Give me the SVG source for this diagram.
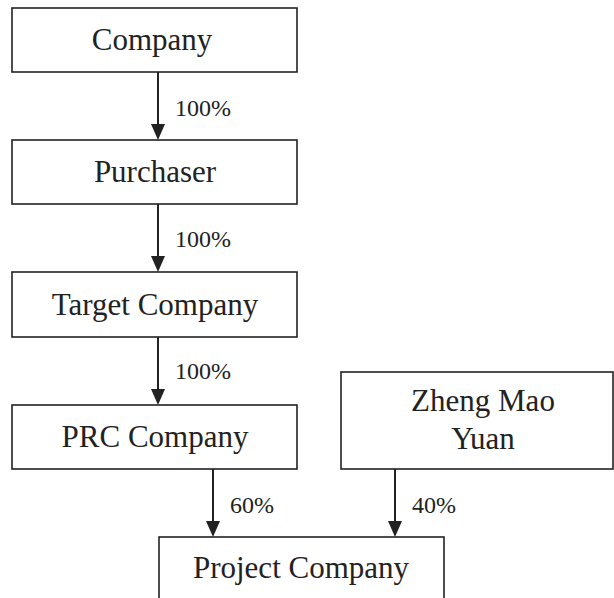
<svg xmlns="http://www.w3.org/2000/svg" width="614" height="598" viewBox="0 0 614 598">
<style>
.box{fill:#fff;stroke:#222;stroke-width:1.6}
.t{font-family:"Liberation Serif","Times New Roman",serif;font-size:31px;fill:#222;text-anchor:middle}
.l{font-family:"Liberation Serif","Times New Roman",serif;font-size:24px;fill:#222}
.c{stroke:#222;stroke-width:2;fill:none;marker-end:url(#ah)}
</style>
<defs>
<marker id="ah" markerUnits="userSpaceOnUse" markerWidth="16" markerHeight="14" viewBox="0 0 16 14" refX="10" refY="7" orient="auto">
<path d="M0,0 L16,7 L0,14 z" fill="#222"/>
</marker>
</defs>
<rect width="614" height="598" fill="#fff"/>
<g id="connectors">
<line class="c" x1="158" y1="72" x2="158" y2="134"/>
<line class="c" x1="158" y1="204" x2="158" y2="266"/>
<line class="c" x1="158" y1="337" x2="158" y2="399"/>
<line class="c" x1="213" y1="469" x2="213" y2="531"/>
<line class="c" x1="395" y1="469" x2="395" y2="531"/>
<text class="l" x="175" y="116">100%</text>
<text class="l" x="175" y="247">100%</text>
<text class="l" x="175" y="379">100%</text>
<text class="l" x="230" y="513">60%</text>
<text class="l" x="412" y="513">40%</text>
</g>
<g id="company">
<rect class="box" x="12" y="8" width="285" height="64"/>
<text class="t" x="152" y="50">Company</text>
</g>
<g id="purchaser">
<rect class="box" x="12" y="140" width="285" height="64"/>
<text class="t" x="155" y="182">Purchaser</text>
</g>
<g id="target">
<rect class="box" x="12" y="272" width="285" height="65"/>
<text class="t" x="155" y="315">Target Company</text>
</g>
<g id="prc">
<rect class="box" x="12" y="405" width="285" height="64"/>
<text class="t" x="155" y="447">PRC Company</text>
</g>
<g id="zheng">
<rect class="box" x="341" y="372" width="272" height="97"/>
<text class="t" x="483" y="411">Zheng Mao</text>
<text class="t" x="483" y="449">Yuan</text>
</g>
<g id="project">
<rect class="box" x="159" y="537" width="285" height="70"/>
<text class="t" x="301" y="578">Project Company</text>
</g>
</svg>
